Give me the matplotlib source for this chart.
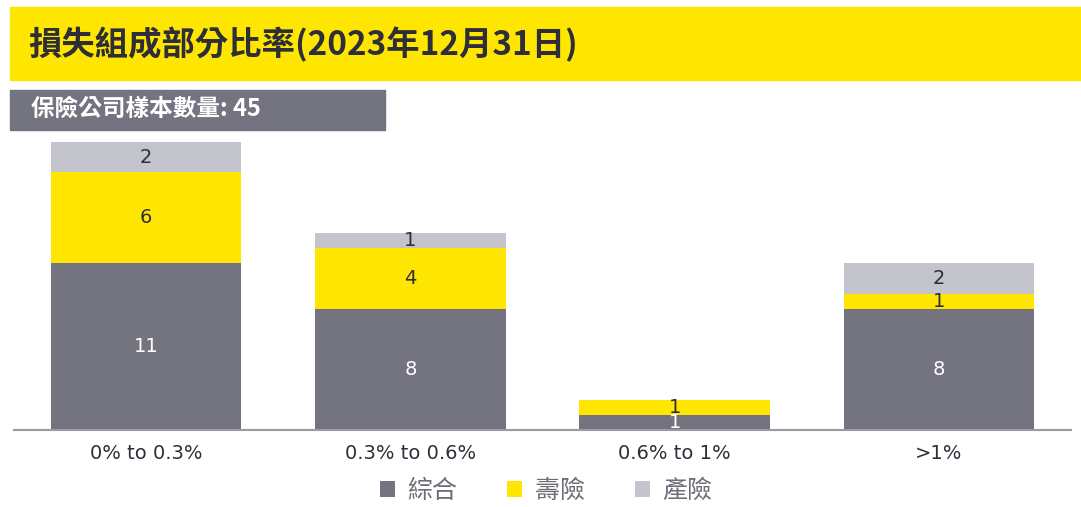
import matplotlib
matplotlib.use("Agg")
import matplotlib.pyplot as plt
from matplotlib.patches import Rectangle
import numpy as np

plt.rcParams['font.family'] = ['Noto Sans CJK TC', 'DejaVu Sans']

# loss ratio buckets and number of insurers per type
categories = ["0% to 0.3%", "0.3% to 0.6%", "0.6% to 1%", ">1%"]
composite = [11, 8, 1, 8]   # 綜合
life = [6, 4, 1, 1]         # 壽險
nonlife = [2, 1, 0, 2]      # 產險
sample_size = 45

DARK = "#747480"
YELLOW = "#FFE600"
LIGHT = "#C4C4CD"
INK = "#2E2E38"

W, H = 1081, 507
fig = plt.figure(figsize=(W / 100, H / 100), dpi=100)

# header banners
fig.patches.append(Rectangle((10 / W, 1 - 80 / H), 1 - 10 / W, 73 / H,
                             transform=fig.transFigure, color=YELLOW, zorder=0))
fig.text(28 / W, 1 - 45 / H, "損失組成部分比率(2023年12月31日)", fontsize=24,
         fontweight="bold", color=INK, va="center", ha="left")
fig.patches.append(Rectangle((10 / W, 1 - 130 / H), 375 / W, 40 / H,
                             transform=fig.transFigure, color=DARK, zorder=0))
fig.text(31 / W, 1 - 109 / H, f"保險公司樣本數量: {sample_size}", fontsize=17,
         fontweight="bold", color="white", va="center", ha="left")

ax = fig.add_axes([14 / W, 77 / H, (1071 - 14) / W, 288 / H])
x = np.arange(len(categories))
bw = 0.72

b1 = ax.bar(x, composite, bw, color=DARK, label="綜合")
b2 = ax.bar(x, life, bw, bottom=composite, color=YELLOW, label="壽險")
bottom3 = [a + b for a, b in zip(composite, life)]
b3 = ax.bar(x, nonlife, bw, bottom=bottom3, color=LIGHT, label="產險")

for bars, vals, col in [(b1, composite, "white"), (b2, life, INK), (b3, nonlife, INK)]:
    for rect, v in zip(bars, vals):
        if v == 0:
            continue
        ax.text(rect.get_x() + rect.get_width() / 2, rect.get_y() + rect.get_height() / 2,
                str(v), ha="center", va="center", color=col, fontsize=14,
                family="DejaVu Sans")

ax.set_xlim(-0.5, 3.5)
ax.set_ylim(0, 19)
for s in ["top", "right", "left"]:
    ax.spines[s].set_visible(False)
ax.spines["bottom"].set_color("#9a9aa3")
ax.spines["bottom"].set_linewidth(1.5)
ax.set_yticks([])
ax.set_xticks(x)
ax.set_xticklabels(categories, fontsize=14, color=INK, family="DejaVu Sans")
ax.tick_params(axis="x", length=0, pad=10)

leg = fig.legend(handles=[b1, b2, b3], loc="center", bbox_to_anchor=(546 / W, 1 - 491 / H),
                 ncol=3, frameon=False, fontsize=18, handlelength=0.6, handleheight=0.6,
                 columnspacing=2.0, handletextpad=0.5)
for t in leg.get_texts():
    t.set_color("#6e6e78")

fig.savefig("out.png", dpi=100)
